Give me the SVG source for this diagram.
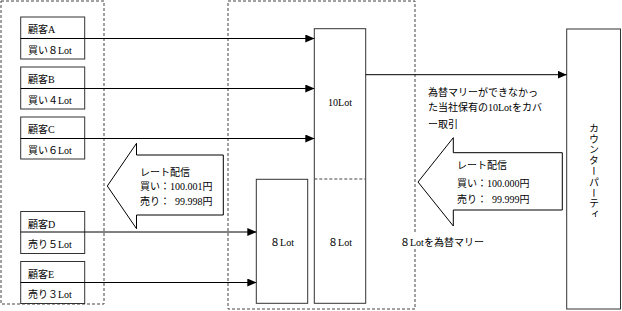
<svg xmlns="http://www.w3.org/2000/svg" width="622" height="311" viewBox="0 0 622 311">
<style>
text{font-family:"Liberation Serif","Noto Sans CJK JP",serif;font-size:10px;fill:#000}
.box{fill:#fff;stroke:#333;stroke-width:1}
.dash{fill:none;stroke:#444;stroke-width:1;stroke-dasharray:3,2}
.conn{fill:none;stroke:#000;stroke-width:1}
.barrow{fill:#fff;stroke:#000;stroke-width:1}
.mid{text-anchor:middle}
</style>
<defs>
<marker id="ah" markerWidth="9" markerHeight="8" refX="9" refY="4" orient="auto" markerUnits="userSpaceOnUse">
<path d="M0,0 L9,4 L0,8 Z" fill="#000"/>
</marker>
</defs>
<rect width="622" height="311" fill="#fff"/>
<g id="groups">
<rect class="dash" x="1" y="1" width="103" height="303"/>
<rect class="dash" x="228" y="1" width="187" height="308"/>
</g>
<g id="custA"><rect class="box" x="20.7" y="17" width="64" height="42"/><line class="conn" x1="20.7" y1="38.5" x2="84.7" y2="38.5"/><text x="28" y="33">顧客A</text><text x="28" y="54">買い８Lot</text></g>
<g id="custB"><rect class="box" x="20.7" y="67" width="64" height="42"/><line class="conn" x1="20.7" y1="88.5" x2="84.7" y2="88.5"/><text x="28" y="83">顧客B</text><text x="28" y="104">買い４Lot</text></g>
<g id="custC"><rect class="box" x="20.7" y="117" width="64" height="42"/><line class="conn" x1="20.7" y1="138.5" x2="84.7" y2="138.5"/><text x="28" y="133">顧客C</text><text x="28" y="154">買い６Lot</text></g>
<g id="custD"><rect class="box" x="20.7" y="211.5" width="64" height="42"/><line class="conn" x1="20.7" y1="232" x2="84.7" y2="232"/><text x="28" y="227.5">顧客D</text><text x="28" y="248">売り５Lot</text></g>
<g id="custE"><rect class="box" x="20.7" y="261.5" width="64" height="42"/><line class="conn" x1="20.7" y1="282.5" x2="84.7" y2="282.5"/><text x="28" y="277.5">顧客E</text><text x="28" y="298">売り３Lot</text></g>
<g id="box10"><rect class="box" x="314.3" y="28.7" width="51.4" height="274.6"/><line class="dash" x1="314.3" y1="179" x2="365.7" y2="179"/><text class="mid" x="340" y="106">10Lot</text><text class="mid" x="340" y="245.5">８Lot</text></g>
<g id="box8"><rect class="box" x="256.3" y="179.3" width="51.4" height="124"/><text class="mid" x="282" y="245.5">８Lot</text></g>
<g id="counterparty"><rect class="box" x="566.7" y="29" width="53.8" height="280"/><text x="593" y="123" style="writing-mode:vertical-rl;letter-spacing:0.8px">カウンターパーティ</text></g>
<g id="rateLeft"><polygon class="barrow" points="107.3,186 136.5,143.3 136.5,155 223.3,155 223.3,215 136.5,215 136.5,228.7"/>
<text x="140" y="175.5">レート配信</text><text x="140" y="190">買い：100.001円</text><text x="140" y="205" xml:space="preserve">売り：  99.998円</text></g>
<g id="rateRight"><polygon class="barrow" points="418,182 453.3,137.7 453.3,152.7 562.3,152.7 562.3,210 453.3,210 453.3,226"/>
<text x="457" y="168.5">レート配信</text><text x="457" y="187">買い：100.000円</text><text x="457" y="203" xml:space="preserve">売り：  99.999円</text></g>
<g id="notes">
<text x="428" y="96">為替マリーができなかっ</text>
<text x="428" y="111">た当社保有の10Lotをカバ</text>
<text x="428" y="127.5">ー取引</text>
<rect x="399" y="232" width="86" height="15" fill="#fff"/>
<text x="400" y="246">８Lotを為替マリー</text>
</g>
<g id="connectors">
<line class="conn" x1="84.7" y1="38.5" x2="314.3" y2="38.5" marker-end="url(#ah)"/>
<line class="conn" x1="84.7" y1="88.5" x2="314.3" y2="88.5" marker-end="url(#ah)"/>
<line class="conn" x1="84.7" y1="138.5" x2="314.3" y2="138.5" marker-end="url(#ah)"/>
<line class="conn" x1="84.7" y1="232" x2="256.3" y2="232" marker-end="url(#ah)"/>
<line class="conn" x1="84.7" y1="282.5" x2="256.3" y2="282.5" marker-end="url(#ah)"/>
<line class="conn" x1="365.7" y1="74.7" x2="566.7" y2="74.7" marker-end="url(#ah)"/>
</g>
</svg>
